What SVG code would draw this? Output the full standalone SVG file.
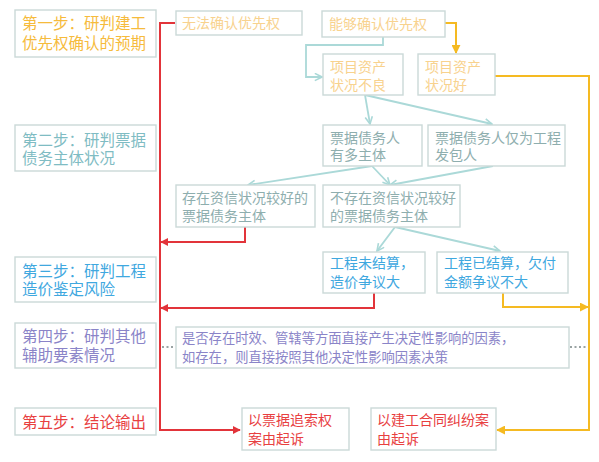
<svg xmlns="http://www.w3.org/2000/svg" width="599" height="462" viewBox="0 0 599 462">
<style>
text{font-family:"Noto Sans CJK SC","Noto Sans",sans-serif;}
.box{fill:#fff;stroke:#cbd9d8;stroke-width:1.4;}
.step{font-size:15.5px;}
.n{font-size:14px;}
.or{fill:#f6bb3c;}
.lor{fill:#f8d28e;}
.tl{fill:#7fbcc3;}
.gt{fill:#8eaeae;}
.bl{fill:#3fa8df;}
.pu{fill:#8a84c8;}
.rd{fill:#e8403f;}
.red{fill:none;stroke:#e2343a;stroke-width:2;}
.yel{fill:none;stroke:#f5ba22;stroke-width:2;}
.teal{fill:none;stroke:#abd9d8;stroke-width:1.8;}
.dot{fill:none;stroke:#9aa3a3;stroke-width:2;stroke-dasharray:2 2.5;}
</style>
<defs>
<marker id="ar" viewBox="0 0 10 10" refX="9" refY="5" markerWidth="8" markerHeight="8" markerUnits="userSpaceOnUse" orient="auto"><path d="M0,0 L10,5 L0,10 Z" fill="#e2343a"/></marker>
<marker id="ay" viewBox="0 0 10 10" refX="9" refY="5" markerWidth="9" markerHeight="9" markerUnits="userSpaceOnUse" orient="auto"><path d="M0,0 L10,5 L0,10 Z" fill="#f5ba22"/></marker>
<marker id="at" viewBox="0 0 10 10" refX="9" refY="5" markerWidth="9" markerHeight="9" markerUnits="userSpaceOnUse" orient="auto"><path d="M1,1 L9,5 L1,9" fill="none" stroke="#abd9d8" stroke-width="1.8"/></marker>
</defs>
<rect width="599" height="462" fill="#fff"/>
<g id="connectors">
<path class="red" d="M175,23 H160 V430 H240" marker-end="url(#ar)"/>
<path class="red" d="M245,227 V242 H161" marker-end="url(#ar)"/>
<path class="red" d="M374,293 V308 H161" marker-end="url(#ar)"/>
<path class="yel" d="M445,23 H456 V53" marker-end="url(#ay)"/>
<path class="yel" d="M495,76 H589 V430 H497" marker-end="url(#ay)"/>
<path class="yel" d="M503,293 V307 H588" marker-end="url(#ay)"/>
<path class="teal" d="M383,37 V45 H306 V77 H322" marker-end="url(#at)"/>
<path class="teal" d="M365,95 L370,124" marker-end="url(#at)"/>
<path class="teal" d="M365,95 L492,124" marker-end="url(#at)"/>
<path class="teal" d="M372,166 L248,185" marker-end="url(#at)"/>
<path class="teal" d="M372,166 L390,185" marker-end="url(#at)"/>
<path class="teal" d="M493,166 L390,185" marker-end="url(#at)"/>
<path class="teal" d="M395,227 L377,251" marker-end="url(#at)"/>
<path class="teal" d="M395,227 L500,251" marker-end="url(#at)"/>
<path class="dot" d="M162,347 H175"/>
<path class="dot" d="M570,347 H588"/>
</g>
<g id="step1"><rect class="box" x="15" y="10" width="141" height="47"/><text class="step or" x="22" y="29">第一步：研判建工</text><text class="step or" x="22" y="49">优先权确认的预期</text></g>
<g id="step2"><rect class="box" x="15" y="125" width="141" height="46"/><text class="step tl" x="22" y="146">第二步：研判票据</text><text class="step tl" x="22" y="164">债务主体状况</text></g>
<g id="step3"><rect class="box" x="15" y="257" width="141" height="45"/><text class="step bl" x="22" y="277">第三步：研判工程</text><text class="step bl" x="22" y="295">造价鉴定风险</text></g>
<g id="step4"><rect class="box" x="15" y="323" width="141" height="45"/><text class="step pu" x="22" y="342">第四步：研判其他</text><text class="step pu" x="22" y="361">辅助要素情况</text></g>
<g id="step5"><rect class="box" x="15" y="408" width="141" height="27"/><text class="step rd" x="22" y="428">第五步：结论输出</text></g>
<g id="n-cannot"><rect class="box" x="176" y="11" width="126" height="24"/><text class="n lor" x="182" y="28">无法确认优先权</text></g>
<g id="n-can"><rect class="box" x="322" y="11" width="123" height="26"/><text class="n lor" x="329" y="29">能够确认优先权</text></g>
<g id="n-bad"><rect class="box" x="323" y="54" width="80" height="41"/><text class="n lor" x="330" y="72">项目资产</text><text class="n lor" x="330" y="90">状况不良</text></g>
<g id="n-good"><rect class="box" x="418" y="54" width="77" height="41"/><text class="n lor" x="425" y="72">项目资产</text><text class="n lor" x="425" y="90">状况好</text></g>
<g id="n-multi"><rect class="box" x="323" y="125" width="99" height="41"/><text class="n gt" x="330" y="143">票据债务人</text><text class="n gt" x="330" y="160">有多主体</text></g>
<g id="n-only"><rect class="box" x="428" y="125" width="137" height="41"/><text class="n gt" x="435" y="143">票据债务人仅为工程</text><text class="n gt" x="435" y="160">发包人</text></g>
<g id="n-exist"><rect class="box" x="176" y="185" width="139" height="42"/><text class="n gt" x="182" y="203">存在资信状况较好的</text><text class="n gt" x="182" y="221">票据债务主体</text></g>
<g id="n-notexist"><rect class="box" x="323" y="185" width="137" height="42"/><text class="n gt" x="330" y="203">不存在资信状况较好</text><text class="n gt" x="330" y="221">的票据债务主体</text></g>
<g id="n-unsettled"><rect class="box" x="323" y="252" width="102" height="41"/><text class="n bl" x="330" y="268">工程未结算，</text><text class="n bl" x="330" y="287">造价争议大</text></g>
<g id="n-settled"><rect class="box" x="437" y="252" width="131" height="41"/><text class="n bl" x="444" y="268">工程已结算，欠付</text><text class="n bl" x="444" y="287">金额争议不大</text></g>
<g id="n-other"><rect class="box" x="176" y="327" width="393" height="41"/><text class="pu" font-size="13.3" x="182" y="343">是否存在时效、管辖等方面直接产生决定性影响的因素，</text><text class="pu" font-size="13.3" x="182" y="362">如存在，则直接按照其他决定性影响因素决策</text></g>
<g id="n-bill"><rect class="box" x="242" y="408" width="107" height="42"/><text class="n rd" x="248" y="425">以票据追索权</text><text class="n rd" x="248" y="444">案由起诉</text></g>
<g id="n-contract"><rect class="box" x="371" y="408" width="125" height="42"/><text class="n rd" x="377" y="425">以建工合同纠纷案</text><text class="n rd" x="377" y="444">由起诉</text></g>
</svg>
